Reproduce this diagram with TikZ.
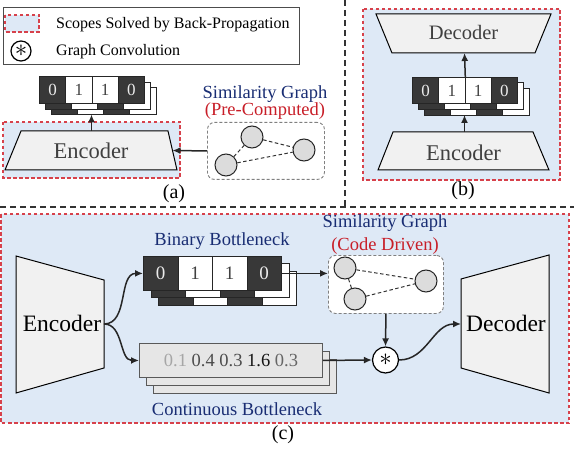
\documentclass[tikz,border=0pt]{standalone}
\usepackage{fontspec}
\setmainfont{Liberation Serif}
\usetikzlibrary{arrows.meta}
\definecolor{navy}{RGB}{25,45,115}
\definecolor{redt}{RGB}{200,30,40}
\definecolor{redd}{RGB}{215,65,75}
\definecolor{bluef}{RGB}{222,233,246}
\definecolor{darkc}{RGB}{56,56,56}
\definecolor{trapf}{RGB}{241,241,241}
\definecolor{nodef}{RGB}{220,220,220}
\definecolor{contf}{RGB}{230,230,230}
\newcommand\fs[1]{\fontsize{#1}{#1}\selectfont}
\newcommand\codestack[6]{%
  \foreach \k in {2,1}{%
    \foreach \i/\cc in {0/darkc,1/white,2/darkc,3/white}{%
      \draw[draw=black!85, fill=\cc, line width=0.8pt] ({#2+\k*0.23*#4+\i*#4},{#3+\k*0.22*#5}) rectangle ++(#4,#5);
    }%
  }%
  \foreach \i/\cc/\tc/\d in {0/darkc/black!8/0,1/white/black!75/1,2/white/black!75/1,3/darkc/black!8/0}{%
    \node[draw=black!85, fill=\cc, text=\tc, line width=0.8pt, minimum width=#4, minimum height=#5, inner sep=0, anchor=north west, font=\fs{#6}] (#1\i) at ({#2+\i*#4},#3) {\d};
  }%
}
\begin{document}
\begin{tikzpicture}[x=1pt, y=-1pt,
  bpscope/.style={draw=redd, fill=bluef, line width=1.1pt, dash pattern=on 3.5pt off 2.5pt},
  sepline/.style={draw=black!80, line width=1.2pt, dash pattern=on 6pt off 4pt},
  trap/.style={draw=black, fill=trapf, line width=1pt},
  arr/.style={draw=black!85, line width=1.5pt, -{Latex[length=8pt,width=7pt]}},
  gbox/.style={draw=black!50, fill=white, dash pattern=on 3pt off 2pt, rounded corners=7pt, line width=0.9pt, inner sep=0, anchor=north west},
  gnode/.style={circle, draw=black!85, fill=nodef, line width=1pt, minimum size=22pt, inner sep=0},
  gedge/.style={draw=black!80, line width=1pt, dash pattern=on 3.5pt off 2.5pt},
  ttl/.style={text=navy, font=\fs{18.5}, inner sep=0, anchor=base},
  sub/.style={text=redt, font=\fs{18.5}, inner sep=0, anchor=base},
  plab/.style={font=\fs{20}, inner sep=0, anchor=base},
  blk/.style={inner sep=0, anchor=base},
  astc/.style={circle, draw=black, fill=white, line width=1.2pt, inner sep=0}
]
\useasboundingbox (0,0) rectangle (574,452);

% legend
\draw[black!70, line width=0.8pt] (3,7) rectangle (299,64);
\draw[bpscope] (5,15) rectangle (39,32);
\node[astc, minimum size=20pt] (legast) at (21,51) {\fs{25}$\ast$};
\node[blk, anchor=base west, font=\fs{16}] (leg1) at (56,29) {Scopes Solved by Back-Propagation};
\node[blk, anchor=base west, font=\fs{16}] (leg2) at (56,56) {Graph Convolution};

% separators
\draw[sepline] (0,207) -- (574,207);
\draw[sepline] (345,0) -- (345,207);

% panel (a)
\draw[bpscope] (3,122) rectangle (180,178);
\draw[trap] (21,131) -- (168,131) -- (177,170) -- (5,170) -- cycle;
\node[blk, text=black!75, font=\fs{22.5}] (encA) at (91,158) {Encoder};
\codestack{a}{39}{76}{26.25}{27}{17}
\coordinate (encAtop) at (91.5,131);
\coordinate (stackAbot) at (91.5,114.5);
\draw[arr] (encAtop) -- (stackAbot);
\node[gbox, minimum width=117pt, minimum height=57pt] (gA) at (207,122) {};
\node[gnode] (ga1) at (252,137) {};
\node[gnode] (ga2) at (304,150) {};
\node[gnode] (ga3) at (226,165) {};
\draw[gedge] (ga1) -- (ga2);
\draw[gedge] (ga3) -- (ga1);
\draw[gedge] (ga3) -- (ga2);
\node[ttl] (gAt) at (265,98.5) {Similarity Graph};
\node[sub] (gAs) at (265,116) {(Pre-Computed)};
\coordinate (encAr) at (172.5,150.5);
\draw[arr] (gA.west) -- (encAr);
\node[plab] (la) at (174,199) {(a)};

% panel (b)
\draw[bpscope] (363,9) rectangle (560,180);
\draw[trap] (376,14) -- (551,14) -- (535,53) -- (392,53) -- cycle;
\node[blk, text=black!75, font=\fs{20.5}] (decB) at (463.5,40) {Decoder};
\draw[trap] (393,132) -- (533,132) -- (549,170) -- (378,170) -- cycle;
\node[blk, text=black!75, font=\fs{22.5}] (encB) at (463.5,160.5) {Encoder};
\codestack{b}{412}{77}{26.25}{26.5}{17}
\coordinate (encBtop) at (464.5,132);
\coordinate (stackBbot) at (464.5,115);
\coordinate (decBbot) at (464.5,53);
\draw[arr] (encBtop) -- (stackBbot);
\draw[arr] (b1.north east) -- (decBbot);
\node[plab] (lb) at (463,195) {(b)};

% panel (c)
\draw[bpscope] (1,214) rectangle (569,423);
\draw[trap] (16,256) -- (104,280) -- (104,368) -- (16,393) -- cycle;
\node[blk, font=\fs{23.5}] (encC) at (62,331.5) {Encoder};
\draw[trap] (461,279) -- (549,255) -- (549,393) -- (461,368) -- cycle;
\node[blk, font=\fs{23.5}] (decC) at (506,331.5) {Decoder};
\codestack{cb}{143}{256}{34.5}{34}{19}
\node[ttl] (bbl) at (222,245) {Binary Bottleneck};
\draw[draw=black!65, fill=contf, line width=0.9pt] (153,359) rectangle (336,393);
\draw[draw=black!65, fill=contf, line width=0.9pt] (146,351) rectangle (329,385);
\node[draw=black!65, fill=contf, line width=0.9pt, minimum width=183pt, minimum height=34pt, anchor=north west, inner sep=0, font=\fs{18.5}] (cont) at (139,343)
  {\textcolor{black!35}{0.1} \textcolor{black!70}{0.4} \textcolor{black!70}{0.3} \textcolor{black!92}{1.6} \textcolor{black!60}{0.3}};
\node[ttl] (cbl) at (237,415) {Continuous Bottleneck};
\node[gbox, minimum width=115pt, minimum height=58pt] (gC) at (328,255) {};
\node[gnode] (gc1) at (345,268) {};
\node[gnode] (gc2) at (355,299) {};
\node[gnode] (gc3) at (426,281) {};
\draw[gedge] (gc1) -- (gc3);
\draw[gedge] (gc2) -- (gc3);
\draw[gedge] (gc1) -- (gc2);
\node[ttl] (gCt) at (385,227.5) {Similarity Graph};
\node[sub] (gCs) at (385,250) {(Code Driven)};
\node[astc, minimum size=26pt] (ast) at (385.5,360) {\fs{32}$\ast$};
\coordinate (encCr) at (104,324);
\coordinate (decCl) at (461,324);
\draw[arr] (encCr) to[out=0, in=180] (cb0.west);
\draw[arr] (encCr) to[out=0, in=180] (cont.west);
\draw[arr] (cb3.east) -- (cb3.east -| gC.west);
\draw[arr] (gC.south) -- (ast.north);
\draw[arr] (cont.east) -- (ast.west);
\draw[arr] (ast.east) to[out=0, in=180] (decCl);
\node[plab] (lc) at (283,439) {(c)};
\end{tikzpicture}
\end{document}
